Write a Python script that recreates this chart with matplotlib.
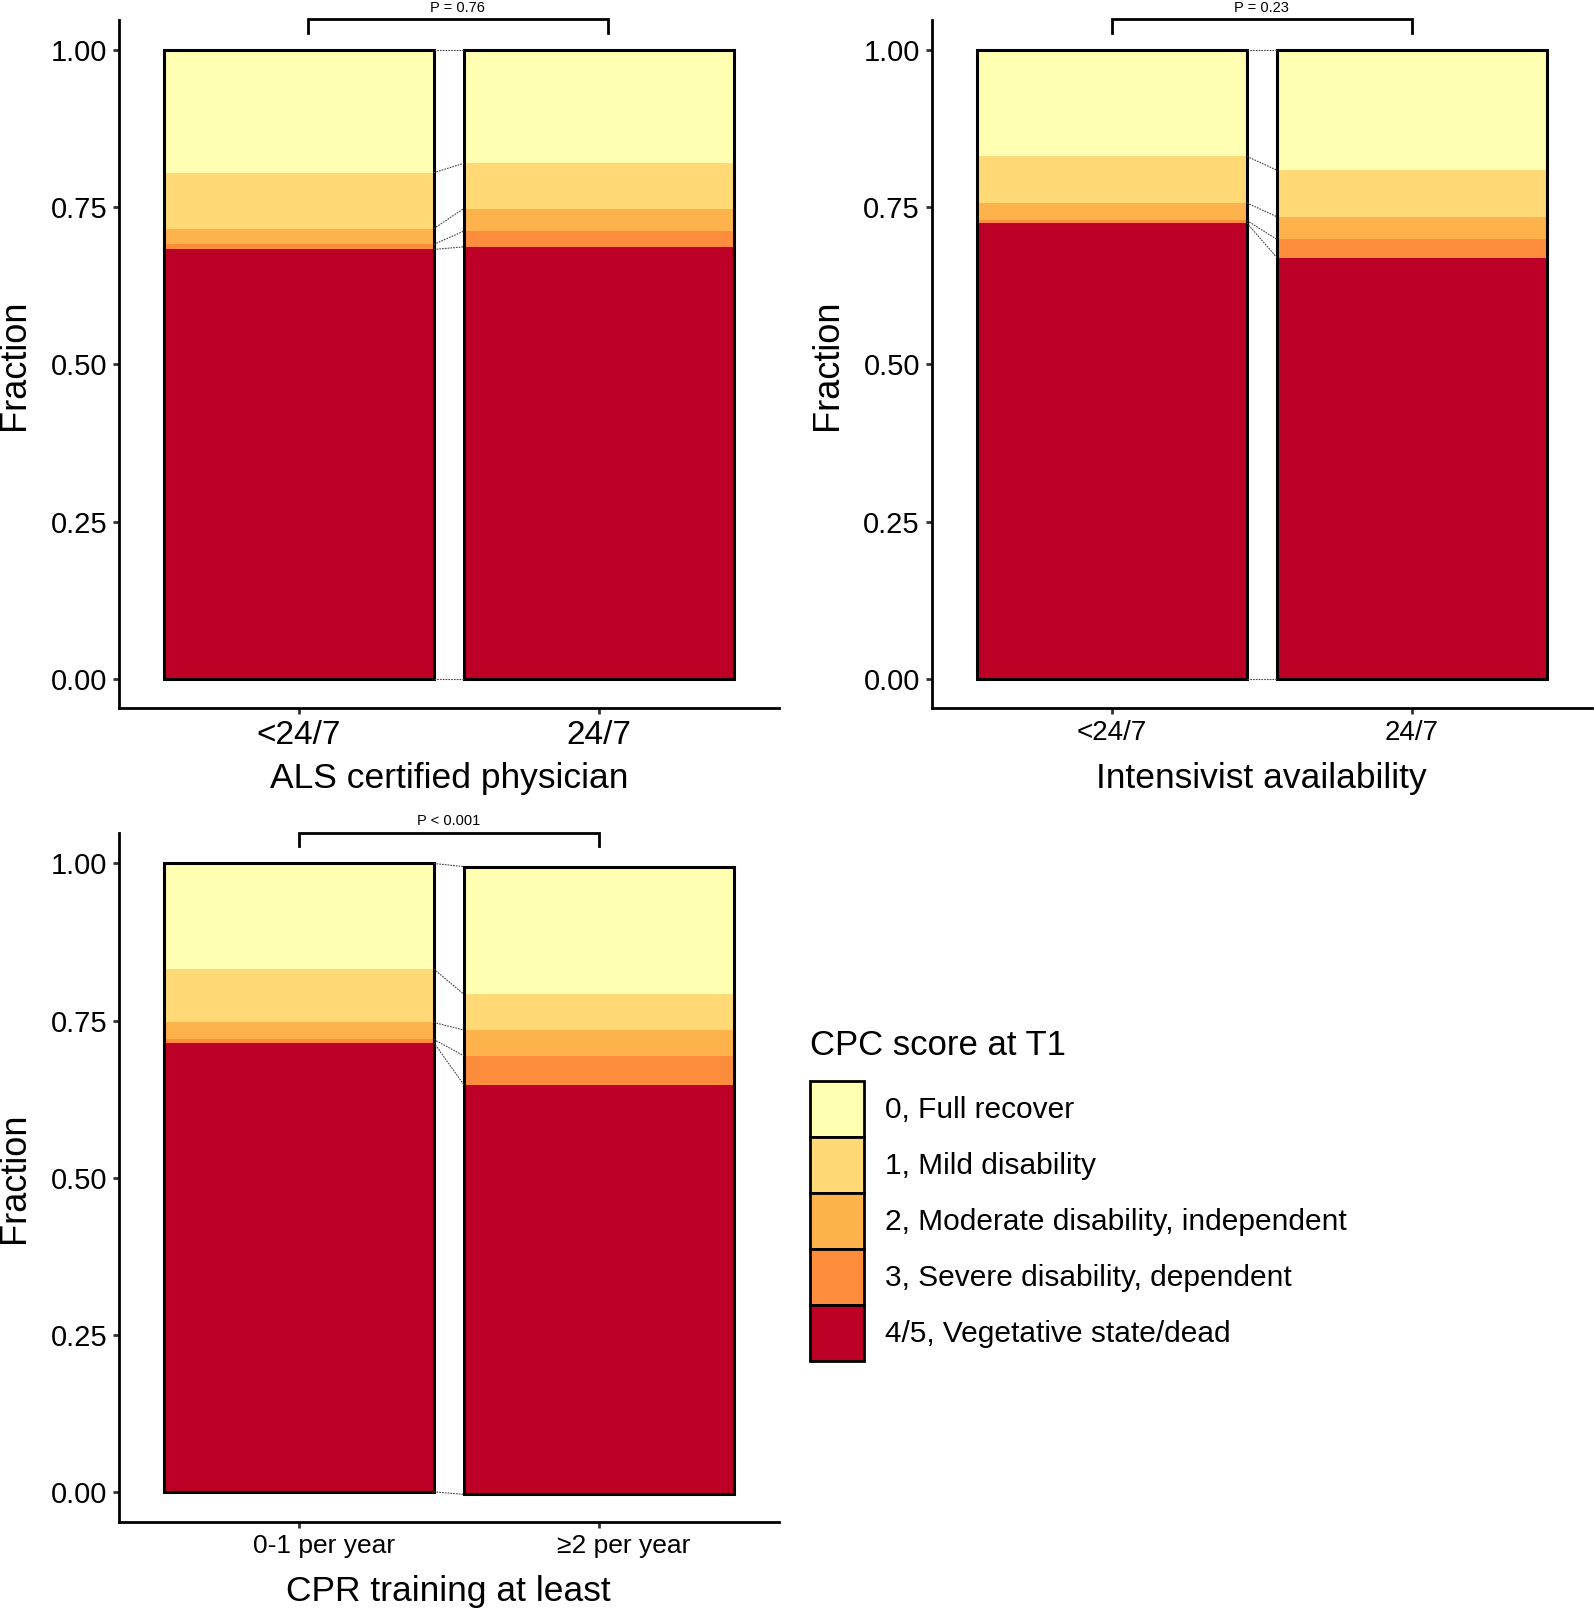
import numpy as np
import matplotlib
matplotlib.use('Agg')
import matplotlib.pyplot as plt
import matplotlib.transforms as mtransforms
from matplotlib.patches import Patch

# CPC score categories (top of bar first)
cpc_labels = ['0, Full recover', '1, Mild disability', '2, Moderate disability, independent',
              '3, Severe disability, dependent', '4/5, Vegetative state/dead']
cpc_colors = ['#FFFFB2', '#FED976', '#FEB24C', '#FD8D3C', '#BD0026']

# ALS certified physician
als_groups = ['<24/7', '24/7']
als_full = [0.195, 0.180]
als_mild = [0.089, 0.072]
als_moderate = [0.025, 0.036]
als_severe = [0.008, 0.025]
als_dead = [0.683, 0.687]
als_base = [0.0, 0.0]
als_p = 'P = 0.76'

# Intensivist availability
int_groups = ['<24/7', '24/7']
int_full = [0.169, 0.191]
int_mild = [0.074, 0.074]
int_moderate = [0.028, 0.036]
int_severe = [0.004, 0.029]
int_dead = [0.725, 0.670]
int_base = [0.0, 0.0]
int_p = 'P = 0.23'

# CPR training at least
cpr_groups = ['0-1 per year', '≥2 per year']
cpr_full = [0.168, 0.203]
cpr_mild = [0.085, 0.057]
cpr_moderate = [0.027, 0.041]
cpr_severe = [0.005, 0.046]
cpr_dead = [0.715, 0.652]
cpr_base = [0.0, -0.004]
cpr_p = 'P < 0.001'

plt.rcParams['font.family'] = ['Liberation Sans', 'DejaVu Sans']

W, H = 1594, 1612


def draw_panel(ax, groups, shares, base, pval, bracket_x, xlabel, tick_size, xlab_y):
    x = np.arange(1, len(groups) + 1)
    width = 0.9
    bottom = np.array(base, dtype=float)
    bounds = [bottom.copy()]
    # stack from the worst outcome upwards
    for share, color in zip(shares[::-1], cpc_colors[::-1]):
        ax.bar(x, share, width, bottom=bottom, color=color, linewidth=0)
        bottom = bottom + np.array(share)
        bounds.append(bottom.copy())
    total = bottom - np.array(base)
    ax.bar(x, total, width, bottom=base, facecolor='none', edgecolor='black', linewidth=2.2)
    for b in bounds:
        ax.plot([x[0] + width / 2, x[1] - width / 2], [b[0], b[1]],
                ls=(0, (1.5, 1)), color='#444444', lw=0.8)

    # significance bracket
    bx0, bx1 = bracket_x
    ax.plot([bx0, bx0, bx1, bx1], [1.028, 1.049, 1.049, 1.028], color='black', lw=2,
            clip_on=False, solid_joinstyle='miter')
    ax.text((bx0 + bx1) / 2, 1.056, pval, ha='center', va='bottom', fontsize=10.5)

    ax.set_xlim(0.4, 2.6)
    ax.set_ylim(-0.0475, 1.048)
    ax.set_xticks(x)
    ax.set_xticklabels(groups, fontsize=tick_size)
    ax.set_yticks([0, 0.25, 0.5, 0.75, 1.0])
    ax.set_yticklabels(['0.00', '0.25', '0.50', '0.75', '1.00'], fontsize=21)
    ax.spines['top'].set_visible(False)
    ax.spines['right'].set_visible(False)
    ax.spines['left'].set_linewidth(2)
    ax.spines['bottom'].set_linewidth(2)
    ax.tick_params(length=4.5, width=2, color='#333333', pad=4)
    ax.set_ylabel('Fraction', fontsize=26)
    ax.yaxis.set_label_coords(-0.132, 0.5)
    ax.set_xlabel(xlabel, fontsize=25.5, va='top')
    ax.xaxis.set_label_coords(0.5, xlab_y)


fig = plt.figure(figsize=(W / 100, H / 100), dpi=100)

ax1 = fig.add_axes([119 / W, 1 - 708.5 / H, 659.5 / W, 688.5 / H])
ax2 = fig.add_axes([931.7 / W, 1 - 708.5 / H, 660.3 / W, 688.5 / H])
ax3 = fig.add_axes([119 / W, 1 - 1521.7 / H, 659.5 / W, 688.4 / H])

draw_panel(ax1, als_groups, [als_full, als_mild, als_moderate, als_severe, als_dead],
           als_base, als_p, (1.03, 2.03), 'ALS certified physician', 24, -0.078)
draw_panel(ax2, int_groups, [int_full, int_mild, int_moderate, int_severe, int_dead],
           int_base, int_p, (1.0, 2.0), 'Intensivist availability', 20, -0.078)
draw_panel(ax3, cpr_groups, [cpr_full, cpr_mild, cpr_moderate, cpr_severe, cpr_dead],
           cpr_base, cpr_p, (1.0, 2.0), 'CPR training at least', 19, -0.078)

# the CPR tick labels sit a little right of their ticks in the original
shift = mtransforms.ScaledTranslation(25 / 100, 0, fig.dpi_scale_trans)
for lab in ax3.get_xticklabels():
    lab.set_transform(lab.get_transform() + shift)

handles = [Patch(facecolor=c, edgecolor='black', linewidth=2) for c in cpc_colors]
leg = fig.legend(handles, cpc_labels, title='CPC score at T1', loc='upper left',
                 bbox_to_anchor=(810 / W, 1 - 1029 / H), frameon=False, fontsize=21.5,
                 title_fontsize=25, handlelength=1.8, handleheight=2.5, labelspacing=0.0,
                 handletextpad=0.7, borderpad=0, borderaxespad=0, alignment='left')
leg._legend_box.sep = 14

fig.savefig('out.png', dpi=100)
